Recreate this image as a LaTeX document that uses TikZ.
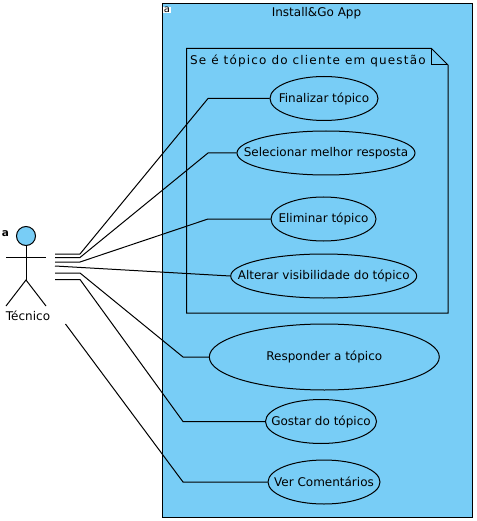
\documentclass[tikz,border=0pt]{standalone}
\usepackage{fontspec}
\setmainfont{DejaVu Sans}
\newfontfamily\notefont[LetterSpace=9.8]{DejaVu Sans}
\usetikzlibrary{
    calc,
    positioning,
    shapes.geometric
}
\definecolor{ink}{RGB}{0,0,0}
\definecolor{sysblue}{RGB}{120,205,246}
\newcommand{\uclabel}[1]{\raisebox{-0.7pt}{\makebox[0pt]{#1}}}
\tikzset{
    line cap=butt,
    line join=miter,
    usecase/.style={
        ellipse,
        draw=ink,
        line width=1pt,
        inner sep=0pt,
        font=\fontsize{12}{14}\selectfont,
        text=ink
    },
    sysbox/.style={
        rectangle,
        draw=ink,
        line width=1pt,
        fill=sysblue,
        inner sep=0pt,
        anchor=north west,
        minimum width=310pt,
        minimum height=513pt
    },
    assoc/.style={
        draw=ink,
        line width=1pt
    },
    actorline/.style={
        draw=ink,
        line width=1pt
    },
    notebox/.style={
        draw=ink,
        line width=1pt
    },
    titlelabel/.style={
        font=\fontsize{12}{14}\selectfont,
        text=ink,
        inner sep=0pt
    },
    tag/.style={
        font=\fontsize{10}{11}\selectfont,
        text=ink,
        inner sep=0pt
    }
}
\begin{document}
\begin{tikzpicture}[x=1pt, y=-1pt]
    \useasboundingbox (0, 0) rectangle (476, 521);

    % System boundary
    \node[sysbox] (sistema) at (161.5, 3.5) {};
    \node[tag, fill=white, inner sep=0.5pt] (sistemaTag) at (167, 10) {a};
    \node[titlelabel] (sistemaTitulo) at (316.5, 13) {Install\&Go App};

    % Note frame
    \coordinate (noteNW) at (186.5, 48.5);
    \coordinate (noteFold) at (431.5, 48.5);
    \coordinate (noteFoldIn) at (431.5, 65);
    \coordinate (noteE) at (448, 65);
    \coordinate (noteSE) at (448, 313);
    \coordinate (noteSW) at (186.5, 313);
    \draw[notebox] (noteNW) -- (noteFold) -- (noteE) -- (noteSE) -- (noteSW) -- cycle;
    \draw[notebox] (noteFold) -- (noteFoldIn) -- (noteE);
    \node[titlelabel, anchor=west, font=\notefont\fontsize{12}{14}\selectfont] (noteTexto) at (190, 61) {Se é tópico do cliente em questão};

    % Use cases
    \node[usecase, minimum width=108pt, minimum height=44pt] (finalizar) at (324, 98.5) {\uclabel{Finalizar tópico}};
    \node[usecase, minimum width=178pt, minimum height=44pt] (selecionar) at (326, 153) {\uclabel{Selecionar melhor resposta}};
    \node[usecase, minimum width=105pt, minimum height=44pt] (eliminar) at (323.5, 219) {\uclabel{Eliminar tópico}};
    \node[usecase, minimum width=186pt, minimum height=44pt] (alterar) at (323.7, 276) {\uclabel{Alterar visibilidade do tópico}};
    \node[usecase, minimum width=230pt, minimum height=66pt] (responder) at (324.3, 357) {\uclabel{Responder a tópico}};
    \node[usecase, minimum width=111pt, minimum height=44pt] (gostar) at (321, 421.5) {\uclabel{Gostar do tópico}};
    \node[usecase, minimum width=112pt, minimum height=44pt] (ver) at (324, 482) {\uclabel{Ver Comentários}};

    % Actor
    \node[circle, draw=ink, fill=sysblue, line width=1pt, minimum size=19pt, inner sep=0pt] (cabeca) at (26, 236) {};
    \coordinate (anca) at (26, 280);
    \coordinate (maoE) at (6, 257);
    \coordinate (maoD) at (46, 257);
    \coordinate (peE) at (6, 306);
    \coordinate (peD) at (46, 306);
    \draw[actorline] (cabeca) -- (anca);
    \draw[actorline] (maoE) -- (maoD);
    \draw[actorline] (peE) -- (anca) -- (peD);
    \node[tag, font=\fontsize{12}{14}\selectfont] (tecnico) at (28, 315.5) {Técnico};
    \node[tag, font=\bfseries\fontsize{10.5}{12}\selectfont] (actorTag) at (5.5, 233.5) {a};

    % Associations
    \coordinate (p1) at (55, 254);
    \coordinate (p2) at (55, 257.5);
    \coordinate (p3) at (55, 262);
    \coordinate (p4) at (55, 266);
    \coordinate (p5) at (55, 273);
    \coordinate (p6) at (55, 279.5);
    \coordinate (p7) at (65.5, 324);
    \draw[assoc] (p1) -- (80, 254) -- (208, 98.5) -- (finalizar.west);
    \draw[assoc] (p2) -- (80, 257.5) -- (208, 153) -- (selecionar.west);
    \draw[assoc] (p3) -- (80, 262) -- (208, 219) -- (eliminar.west);
    \draw[assoc] (p4) -- (alterar.west);
    \draw[assoc] (p5) -- (80, 273) -- (183, 357) -- (responder.west);
    \draw[assoc] (p6) -- (80, 279.5) -- (183, 421.5) -- (gostar.west);
    \draw[assoc] (p7) -- (183, 482) -- (ver.west);
\end{tikzpicture}
\end{document}
